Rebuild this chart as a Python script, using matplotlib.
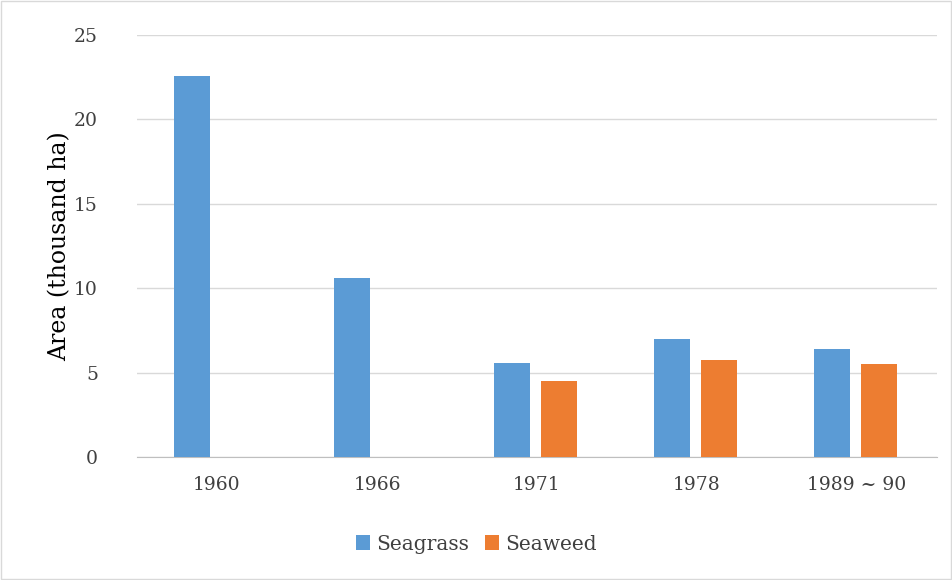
import numpy as np
import matplotlib
matplotlib.use('Agg')
import matplotlib.pyplot as plt

years = ['1960', '1966', '1971', '1978', '1989 ~ 90']
seagrass = [22.6, 10.6, 5.57, 7.0, 6.4]
seaweed = [0, 0, 4.5, 5.75, 5.5]

plt.rcParams['font.family'] = ['DejaVu Serif']

fig = plt.figure(figsize=(9.53, 5.80), dpi=100)
fig.patches.append(plt.Rectangle((0.001, 0.001), 0.997, 0.997, transform=fig.transFigure,
	fill=False, edgecolor='#d9d9d9', linewidth=1))
ax = fig.add_axes([137/953, 1-457/580, 800/953, 422/580])

x = np.arange(len(years))
w = 0.225
ax.bar(x - 0.157, seagrass, w, color='#5b9bd5', label='Seagrass', zorder=3)
ax.bar(x + 0.14, seaweed, w, color='#ed7d31', label='Seaweed', zorder=3)

ax.set_ylim(0, 25)
ax.set_xlim(-0.5, len(years) - 0.5)
ax.set_yticks(range(0, 26, 5))
ax.set_xticks(x)
ax.set_xticklabels(years)
ax.grid(axis='y', color='#d9d9d9', linewidth=1, zorder=0)
for s in ['top', 'right', 'left']:
	ax.spines[s].set_visible(False)
ax.spines['bottom'].set_color('#bfbfbf')
ax.tick_params(length=0, labelsize=13.5, colors='#404040', pad=14)
ax.tick_params(axis='y', pad=28)
ax.set_ylabel('Area (thousand ha)', fontsize=17, labelpad=2, color='black')

fig.legend(loc='center', bbox_to_anchor=(0.5, 1-544/580), ncol=2, frameon=False,
	fontsize=14.5, handlelength=0.7, handleheight=0.7, columnspacing=0.8, handletextpad=0.3,
	labelcolor='#404040')

fig.savefig('out.png')
